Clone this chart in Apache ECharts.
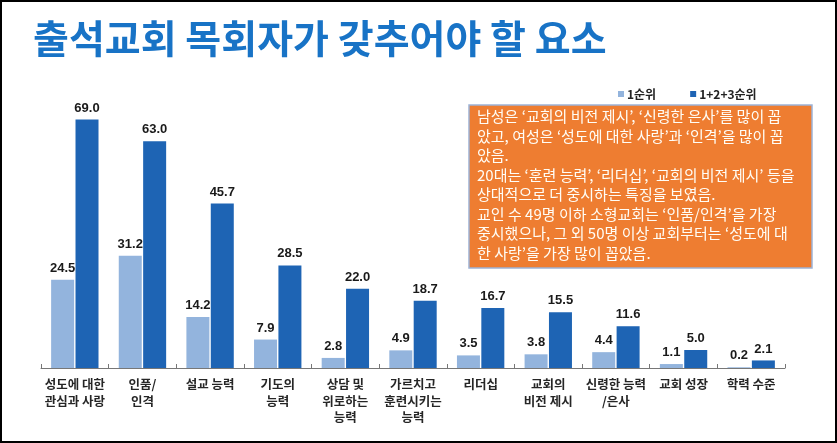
<!DOCTYPE html>
<html>
<head>
<meta charset="utf-8">
<script src="https://cdn.jsdelivr.net/npm/echarts@6/dist/echarts.min.js"></script>
<style>
  html, body { margin: 0; padding: 0; background: #fff; }
  #chart { width: 837px; height: 443px; }
</style>
</head>
<body>
<div id="chart"></div>
<script>
  // categories and values
  var categories = [
    '성도에 대한\n관심과 사랑', '인품/\n인격', '설교 능력', '기도의\n능력', '상담 및\n위로하는\n능력',
    '가르치고\n훈련시키는\n능력', '리더십', '교회의\n비전 제시', '신령한 능력\n/은사', '교회 성장', '학력 수준'
  ];
  var rank1 = [24.5, 31.2, 14.2, 7.9, 2.8, 4.9, 3.5, 3.8, 4.4, 1.1, 0.2];
  var rank123 = [69.0, 63.0, 45.7, 28.5, 22.0, 18.7, 16.7, 15.5, 11.6, 5.0, 2.1];
  var seriesNames = ['1순위', '1+2+3순위'];

  var noteLines = [
    '남성은 ‘교회의 비전 제시’, ‘신령한 은사’를 많이 꼽',
    '았고, 여성은 ‘성도에 대한 사랑’과 ‘인격’을 많이 꼽',
    '았음.',
    '20대는 ‘훈련 능력’, ‘리더십’, ‘교회의 비전 제시’ 등을',
    '상대적으로 더 중시하는 특징을 보였음.',
    '교인 수 49명 이하 소형교회는 ‘인품/인격’을 가장',
    '중시했으나, 그 외 50명 이상 교회부터는 ‘성도에 대',
    '한 사랑’을 가장 많이 꼽았음.'
  ];

  var chart = echarts.init(document.getElementById('chart'));
  var labelStyle = {
    show: true,
    position: 'top',
    distance: 5,
    fontFamily: 'Liberation Sans, Arial, sans-serif',
    fontWeight: 'bold',
    fontSize: 13,
    color: '#1a1a1a',
    formatter: function (p) { return p.value.toFixed(1); }
  };

  var option = {
    animation: false,
    title: {
      text: '출석교회 목회자가 갖추어야 할 요소',
      left: 28,
      top: 14,
      textStyle: {
        fontFamily: 'Noto Sans CJK KR',
        fontWeight: 'bold',
        fontSize: 39,
        color: '#1873c6'
      }
    },
    legend: {
      data: seriesNames,
      left: 613,
      top: 83,
      itemWidth: 6,
      itemHeight: 6,
      itemGap: 34,
      icon: 'rect',
      textStyle: {
        fontFamily: 'Noto Sans CJK KR',
        fontWeight: 'bold',
        fontSize: 12,
        color: '#222',
        padding: [0, 0, 0, -2]
      }
    },
    grid: { left: 41, right: 52, top: 80, bottom: 75 },
    xAxis: {
      type: 'category',
      data: categories,
      axisLine: { lineStyle: { color: '#777', width: 1 } },
      axisTick: { show: true, inside: true, length: 4, lineStyle: { color: '#777' } },
      axisLabel: {
        interval: 0,
        margin: 8,
        fontFamily: 'Noto Sans CJK KR',
        fontWeight: 'bold',
        fontSize: 12.5,
        lineHeight: 16.5,
        color: '#262626'
      }
    },
    yAxis: {
      type: 'value',
      min: 0,
      max: 80,
      show: false,
      splitLine: { show: false }
    },
    series: [
      {
        name: seriesNames[0],
        type: 'bar',
        data: rank1,
        barWidth: 23,
        barGap: '6%',
        itemStyle: { color: '#93b4dd' },
        label: labelStyle
      },
      {
        name: seriesNames[1],
        type: 'bar',
        data: rank123,
        barWidth: 23,
        itemStyle: { color: '#1e64b4' },
        label: labelStyle
      }
    ],
    graphic: [
      {
        type: 'rect',
        shape: { x: 1, y: 1, width: 835, height: 441 },
        style: { fill: 'none', stroke: '#000', lineWidth: 2 },
        z: 100
      },
      {
        type: 'rect',
        shape: { x: 469, y: 105, width: 343, height: 163 },
        style: { fill: '#ee7d31', stroke: '#9db3d6', lineWidth: 1.5 },
        z: 50
      },
      {
        type: 'text',
        left: 477,
        top: 107,
        z: 51,
        style: {
          text: noteLines.join('\n'),
          fontFamily: 'Noto Sans CJK KR',
          fontSize: 15,
          lineHeight: 19.5,
          fill: '#fffdf6'
        }
      }
    ]
  };
  chart.setOption(option);
</script>
</body>
</html>
